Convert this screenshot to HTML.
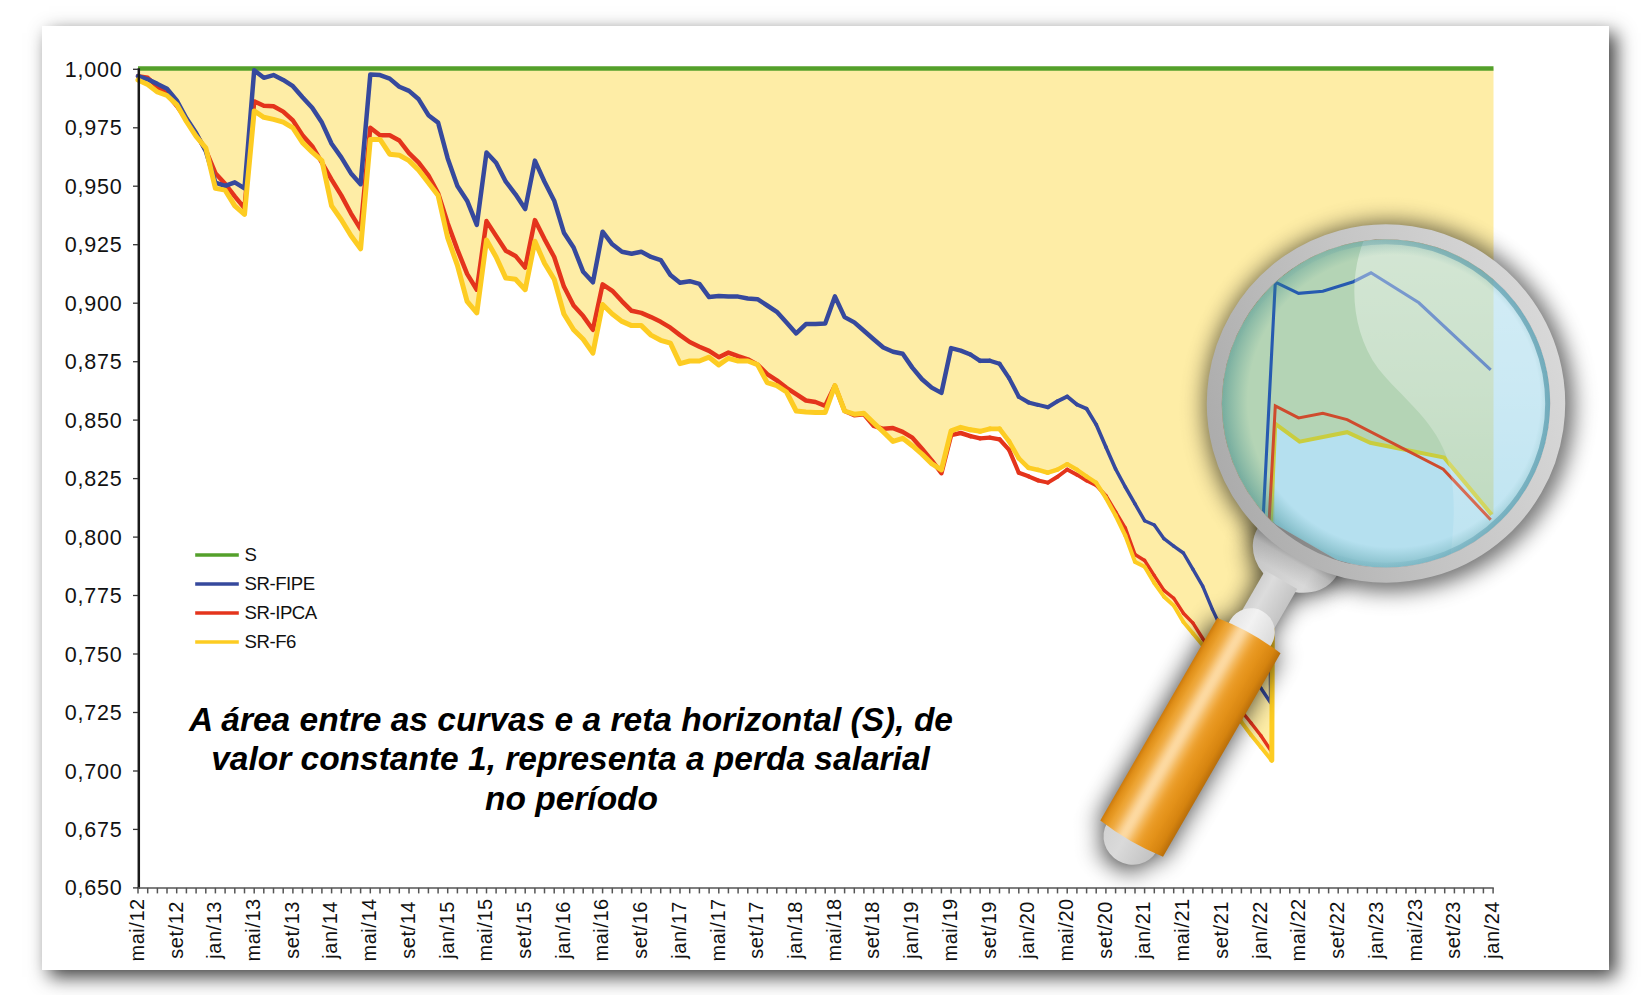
<!DOCTYPE html>
<html lang="pt"><head><meta charset="utf-8"><title>Chart</title>
<style>
html,body{margin:0;padding:0;background:#fff;}
body{width:1641px;height:995px;position:relative;overflow:hidden;font-family:"Liberation Sans",sans-serif;}
#paper{position:absolute;left:42px;top:26px;width:1567px;height:944px;background:#fff;box-shadow:7px 7px 18px rgba(0,0,0,0.76);}
svg{position:absolute;left:0;top:0;}
text{font-family:"Liberation Sans",sans-serif;fill:#111;}
.yl{font-size:21.5px;letter-spacing:0.8px;}
.xl{font-size:20px;letter-spacing:0.55px;}
.lg{font-size:18.6px;letter-spacing:-0.45px;}
.an{font-size:33.5px;font-weight:bold;font-style:italic;fill:#000;}
</style></head><body>
<div id="paper"></div>
<svg width="1641" height="995" viewBox="0 0 1641 995">
<defs>
<clipPath id="noglass"><path clip-rule="evenodd" d="M0,0 H1641 V995 H0 Z M1222,403.5 a164,164 0 1,0 328,0 a164,164 0 1,0 -328,0 Z"/></clipPath>
<clipPath id="glassclip"><circle cx="1386.0" cy="403.5" r="164.0"/></clipPath>
<filter id="blur" x="-30%" y="-30%" width="160%" height="160%"><feGaussianBlur stdDeviation="12.5"/></filter>
<radialGradient id="glassedge" gradientUnits="userSpaceOnUse" cx="1394" cy="401" r="174">
<stop offset="0" stop-color="#3A8A8A" stop-opacity="0"/>
<stop offset="0.84" stop-color="#3A8A8A" stop-opacity="0"/>
<stop offset="1" stop-color="#2F7F86" stop-opacity="0.5"/>
</radialGradient>
<linearGradient id="ringg" gradientUnits="userSpaceOnUse" x1="1222" y1="440" x2="1550" y2="370">
<stop offset="0" stop-color="#4E93A6" stop-opacity="0"/><stop offset="0.4" stop-color="#4E93A6" stop-opacity="0.08"/><stop offset="0.75" stop-color="#4E93A6" stop-opacity="0.5"/><stop offset="1" stop-color="#4E93A6" stop-opacity="0.66"/>
</linearGradient>
<linearGradient id="glareg" gradientUnits="userSpaceOnUse" x1="0" y1="240" x2="0" y2="570">
<stop offset="0" stop-color="#fff" stop-opacity="0.42"/><stop offset="0.45" stop-color="#fff" stop-opacity="0.3"/><stop offset="1" stop-color="#fff" stop-opacity="0.1"/>
</linearGradient>
<linearGradient id="rimg" gradientUnits="userSpaceOnUse" x1="-116" y1="137" x2="116" y2="-137">
<stop offset="0" stop-color="#ACACAC"/><stop offset="0.5" stop-color="#C4C4C4"/><stop offset="1" stop-color="#D8D8D8"/>
</linearGradient>
<linearGradient id="handleg" x1="0" y1="0" x2="1" y2="0">
<stop offset="0.000" stop-color="#CC7A0C"/>
<stop offset="0.025" stop-color="#D48312"/>
<stop offset="0.050" stop-color="#DD8C17"/>
<stop offset="0.075" stop-color="#E2921C"/>
<stop offset="0.100" stop-color="#E59721"/>
<stop offset="0.125" stop-color="#E89C28"/>
<stop offset="0.150" stop-color="#ECA230"/>
<stop offset="0.175" stop-color="#EDA638"/>
<stop offset="0.200" stop-color="#EFAB42"/>
<stop offset="0.225" stop-color="#F1B150"/>
<stop offset="0.250" stop-color="#F3B960"/>
<stop offset="0.275" stop-color="#F6C271"/>
<stop offset="0.300" stop-color="#F8CA83"/>
<stop offset="0.325" stop-color="#FAD192"/>
<stop offset="0.350" stop-color="#FCD79D"/>
<stop offset="0.375" stop-color="#FCD9A1"/>
<stop offset="0.400" stop-color="#FCD89F"/>
<stop offset="0.425" stop-color="#FBD497"/>
<stop offset="0.450" stop-color="#F9CD8A"/>
<stop offset="0.475" stop-color="#F7C679"/>
<stop offset="0.500" stop-color="#F5BD68"/>
<stop offset="0.525" stop-color="#F3B658"/>
<stop offset="0.550" stop-color="#F2AF4A"/>
<stop offset="0.575" stop-color="#F0A83D"/>
<stop offset="0.600" stop-color="#EDA333"/>
<stop offset="0.625" stop-color="#EB9E2C"/>
<stop offset="0.650" stop-color="#EA9B26"/>
<stop offset="0.675" stop-color="#E89822"/>
<stop offset="0.700" stop-color="#E7961F"/>
<stop offset="0.725" stop-color="#E5941C"/>
<stop offset="0.750" stop-color="#E4921A"/>
<stop offset="0.775" stop-color="#E29018"/>
<stop offset="0.800" stop-color="#DF8D16"/>
<stop offset="0.825" stop-color="#DD8B15"/>
<stop offset="0.850" stop-color="#DB8913"/>
<stop offset="0.875" stop-color="#D88611"/>
<stop offset="0.900" stop-color="#D6840F"/>
<stop offset="0.925" stop-color="#CF7F0E"/>
<stop offset="0.950" stop-color="#C8790D"/>
<stop offset="0.975" stop-color="#C0740B"/>
<stop offset="1.000" stop-color="#B96E0A"/>
</linearGradient>
<linearGradient id="neckg" x1="0" y1="0" x2="1" y2="0">
<stop offset="0" stop-color="#D0D0D0"/><stop offset="0.3" stop-color="#DCDCDC"/><stop offset="1" stop-color="#C4C4C4"/>
</linearGradient>
<linearGradient id="collarg" x1="0" y1="0" x2="1" y2="0">
<stop offset="0" stop-color="#C2C2C2"/><stop offset="0.35" stop-color="#CECECE"/><stop offset="0.75" stop-color="#D9D9D9"/><stop offset="1" stop-color="#C6C6C6"/>
</linearGradient>
<linearGradient id="collarsh" gradientUnits="userSpaceOnUse" x1="0" y1="170" x2="0" y2="212">
<stop offset="0" stop-color="#000" stop-opacity="0.35"/><stop offset="0.3" stop-color="#000" stop-opacity="0.1"/><stop offset="0.7" stop-color="#000" stop-opacity="0"/>
</linearGradient>
<linearGradient id="domeg" x1="0" y1="0" x2="1" y2="0">
<stop offset="0" stop-color="#E4E4E4"/><stop offset="0.4" stop-color="#F2F2F2"/><stop offset="1" stop-color="#DADADA"/>
</linearGradient>
<linearGradient id="capg" x1="0" y1="0" x2="1" y2="0">
<stop offset="0" stop-color="#D2D2D2"/><stop offset="0.4" stop-color="#DADADA"/><stop offset="1" stop-color="#C2C2C2"/>
</linearGradient>
</defs>
<polygon points="138.0,68.3 1493.5,68.3 1493.5,514.6 1491.7,514.6 1444.2,457.6 1370.3,442.8 1347.1,432.2 1299.6,441.7 1275.3,423.8 1272.0,762.5 1270.5,759.0 1260.8,747.0 1251.1,735.0 1241.4,722.0 1231.8,703.0 1222.1,683.0 1212.4,664.0 1202.7,645.2 1193.0,633.6 1183.4,622.0 1173.7,605.6 1164.0,596.7 1154.3,583.0 1144.6,566.7 1135.0,561.9 1125.3,535.5 1115.6,515.5 1105.9,497.9 1096.2,482.8 1086.6,476.4 1076.9,469.7 1067.2,464.2 1057.5,469.7 1047.9,472.7 1038.2,469.9 1028.5,467.8 1018.8,458.3 1009.1,441.4 999.5,428.8 989.8,428.8 980.1,431.3 970.4,429.8 960.7,427.3 951.1,430.9 941.4,469.9 931.7,463.6 922.0,454.1 912.3,445.7 902.7,438.3 893.0,441.4 883.3,431.9 873.6,422.7 863.9,413.2 854.3,414.2 844.6,411.0 834.9,385.7 825.2,412.5 815.5,412.5 805.9,412.1 796.2,411.0 786.5,392.0 776.8,385.7 767.2,382.6 757.5,364.6 747.8,361.0 738.1,361.0 728.4,358.3 718.8,365.0 709.1,357.2 699.4,361.0 689.7,361.0 680.0,363.6 670.4,343.1 660.7,340.3 651.0,335.1 641.3,325.6 631.6,325.6 622.0,321.4 612.3,314.0 602.6,304.5 592.9,353.1 583.2,339.3 573.6,329.8 563.9,314.0 554.2,279.2 544.5,263.3 534.9,241.2 525.2,289.7 515.5,279.2 505.8,278.1 496.1,257.0 486.5,240.1 476.8,312.9 467.1,301.3 457.4,265.4 447.7,238.0 438.1,195.4 428.4,182.7 418.7,170.1 409.0,160.6 399.3,155.3 389.7,154.2 380.0,139.4 370.3,139.4 360.6,248.8 350.9,235.5 341.3,219.7 331.6,205.9 321.9,160.6 312.2,152.1 302.5,142.6 292.9,127.8 283.2,122.1 273.5,119.4 263.8,117.3 254.2,110.9 244.5,214.4 234.8,205.9 225.1,190.1 215.4,188.4 205.8,147.9 196.1,136.3 186.4,121.5 176.7,104.6 167.0,95.5 157.4,91.9 147.7,84.6 138.0,79.9" fill="#FEEDA6"/>
<line x1="138.0" y1="68.5" x2="1493.5" y2="68.5" stroke="#54A02B" stroke-width="4.6"/>
<polyline points="138.0,76.1 147.7,77.8 157.4,86.7 167.0,94.1 176.7,105.7 186.4,119.4 196.1,134.2 205.8,150.0 215.4,173.2 225.1,183.8 234.8,196.4 244.5,208.1 254.2,101.4 263.8,105.7 273.5,106.3 283.2,111.6 292.9,120.4 302.5,135.2 312.2,146.2 321.9,162.7 331.6,179.6 341.3,195.4 350.9,213.3 360.6,229.2 370.3,127.8 380.0,135.2 389.7,135.2 399.3,140.5 409.0,153.2 418.7,162.7 428.4,175.3 438.1,193.3 447.7,223.2 457.4,249.6 467.1,273.9 476.8,289.7 486.5,221.1 496.1,235.9 505.8,250.7 515.5,255.9 525.2,267.6 534.9,220.1 544.5,239.1 554.2,257.0 563.9,286.6 573.6,305.6 583.2,316.1 592.9,329.8 602.6,284.4 612.3,290.8 622.0,301.3 631.6,310.8 641.3,312.9 651.0,317.1 660.7,321.8 670.4,327.7 680.0,335.1 689.7,342.0 699.4,346.7 709.1,350.9 718.8,357.2 728.4,352.6 738.1,356.2 747.8,359.3 757.5,364.6 767.2,374.1 776.8,380.4 786.5,387.8 796.2,394.2 805.9,400.5 815.5,402.0 825.2,405.8 834.9,385.7 844.6,411.0 854.3,415.3 863.9,414.2 873.6,425.8 883.3,428.8 893.0,428.1 902.7,431.9 912.3,437.6 922.0,448.8 931.7,460.4 941.4,473.1 951.1,435.1 960.7,433.0 970.4,436.2" fill="none" stroke="#E4341C" stroke-width="4.50" stroke-linejoin="round" stroke-linecap="round"/>
<line x1="970.4" y1="436.2" x2="980.1" y2="438.3" stroke="#E4341C" stroke-width="4.42" stroke-linecap="round"/>
<line x1="980.1" y1="438.3" x2="989.8" y2="437.6" stroke="#E4341C" stroke-width="4.36" stroke-linecap="round"/>
<line x1="989.8" y1="437.6" x2="999.5" y2="439.3" stroke="#E4341C" stroke-width="4.31" stroke-linecap="round"/>
<line x1="999.5" y1="439.3" x2="1009.1" y2="449.9" stroke="#E4341C" stroke-width="4.25" stroke-linecap="round"/>
<line x1="1009.1" y1="449.9" x2="1018.8" y2="472.7" stroke="#E4341C" stroke-width="4.20" stroke-linecap="round"/>
<line x1="1018.8" y1="472.7" x2="1028.5" y2="476.3" stroke="#E4341C" stroke-width="4.14" stroke-linecap="round"/>
<line x1="1028.5" y1="476.3" x2="1038.2" y2="480.5" stroke="#E4341C" stroke-width="4.09" stroke-linecap="round"/>
<line x1="1038.2" y1="480.5" x2="1047.9" y2="482.6" stroke="#E4341C" stroke-width="4.03" stroke-linecap="round"/>
<line x1="1047.9" y1="482.6" x2="1057.5" y2="476.8" stroke="#E4341C" stroke-width="3.98" stroke-linecap="round"/>
<line x1="1057.5" y1="476.8" x2="1067.2" y2="469.5" stroke="#E4341C" stroke-width="3.92" stroke-linecap="round"/>
<line x1="1067.2" y1="469.5" x2="1076.9" y2="474.7" stroke="#E4341C" stroke-width="3.87" stroke-linecap="round"/>
<line x1="1076.9" y1="474.7" x2="1086.6" y2="480.6" stroke="#E4341C" stroke-width="3.81" stroke-linecap="round"/>
<line x1="1086.6" y1="480.6" x2="1096.2" y2="485.3" stroke="#E4341C" stroke-width="3.76" stroke-linecap="round"/>
<line x1="1096.2" y1="485.3" x2="1105.9" y2="495.8" stroke="#E4341C" stroke-width="3.70" stroke-linecap="round"/>
<line x1="1105.9" y1="495.8" x2="1115.6" y2="511.9" stroke="#E4341C" stroke-width="3.65" stroke-linecap="round"/>
<line x1="1115.6" y1="511.9" x2="1125.3" y2="528.1" stroke="#E4341C" stroke-width="3.59" stroke-linecap="round"/>
<line x1="1125.3" y1="528.1" x2="1135.0" y2="554.5" stroke="#E4341C" stroke-width="3.54" stroke-linecap="round"/>
<line x1="1135.0" y1="554.5" x2="1144.6" y2="560.4" stroke="#E4341C" stroke-width="3.48" stroke-linecap="round"/>
<line x1="1144.6" y1="560.4" x2="1154.3" y2="575.6" stroke="#E4341C" stroke-width="3.43" stroke-linecap="round"/>
<line x1="1154.3" y1="575.6" x2="1164.0" y2="590.4" stroke="#E4341C" stroke-width="3.40" stroke-linecap="round"/>
<line x1="1164.0" y1="590.4" x2="1173.7" y2="598.2" stroke="#E4341C" stroke-width="3.40" stroke-linecap="round"/>
<line x1="1173.7" y1="598.2" x2="1183.4" y2="613.2" stroke="#E4341C" stroke-width="3.40" stroke-linecap="round"/>
<line x1="1183.4" y1="613.2" x2="1193.0" y2="623.1" stroke="#E4341C" stroke-width="3.40" stroke-linecap="round"/>
<line x1="1193.0" y1="623.1" x2="1202.7" y2="638.5" stroke="#E4341C" stroke-width="3.40" stroke-linecap="round"/>
<line x1="1202.7" y1="638.5" x2="1212.4" y2="655.0" stroke="#E4341C" stroke-width="3.40" stroke-linecap="round"/>
<line x1="1212.4" y1="655.0" x2="1222.1" y2="672.0" stroke="#E4341C" stroke-width="3.40" stroke-linecap="round"/>
<line x1="1222.1" y1="672.0" x2="1231.8" y2="691.0" stroke="#E4341C" stroke-width="3.40" stroke-linecap="round"/>
<line x1="1231.8" y1="691.0" x2="1241.4" y2="711.0" stroke="#E4341C" stroke-width="3.40" stroke-linecap="round"/>
<line x1="1241.4" y1="711.0" x2="1251.1" y2="723.0" stroke="#E4341C" stroke-width="3.40" stroke-linecap="round"/>
<line x1="1251.1" y1="723.0" x2="1260.8" y2="735.5" stroke="#E4341C" stroke-width="3.40" stroke-linecap="round"/>
<line x1="1260.8" y1="735.5" x2="1270.5" y2="750.0" stroke="#E4341C" stroke-width="3.40" stroke-linecap="round"/>
<polyline points="138.0,76.1 147.7,79.3 157.4,83.9 167.0,88.8 176.7,100.4 186.4,118.3 196.1,133.1 205.8,151.1 215.4,182.7 225.1,185.9 234.8,182.3 244.5,188.4 254.2,70.2 263.8,77.8 273.5,75.1 283.2,79.9 292.9,86.2 302.5,97.2 312.2,107.8 321.9,122.6 331.6,143.7 341.3,157.4 350.9,173.2 360.6,184.2 370.3,74.4 380.0,75.1 389.7,78.6 399.3,86.7 409.0,90.9 418.7,99.3 428.4,115.2 438.1,122.6 447.7,158.4 457.4,185.9 467.1,200.7 476.8,224.9 486.5,152.5 496.1,162.7 505.8,181.7 515.5,194.3 525.2,209.1 534.9,160.6 544.5,181.7 554.2,200.7 563.9,232.7 573.6,247.5 583.2,271.8 592.9,282.3 602.6,231.7 612.3,244.3 622.0,251.7 631.6,253.8 641.3,251.7 651.0,256.9 660.7,260.1 670.4,274.9 680.0,282.7 689.7,281.2 699.4,283.8 709.1,297.1 718.8,296.0 728.4,296.6 738.1,296.6 747.8,298.5 757.5,299.2 767.2,305.5 776.8,311.8 786.5,322.4 796.2,333.4 805.9,324.1 815.5,324.1 825.2,323.4 834.9,296.4 844.6,317.1 854.3,322.4 863.9,330.8 873.6,339.3 883.3,347.5 893.0,351.7 902.7,353.8 912.3,367.6 922.0,379.2 931.7,387.6 941.4,392.9 951.1,348.1 960.7,350.7 970.4,354.5" fill="none" stroke="#36499D" stroke-width="4.50" stroke-linejoin="round" stroke-linecap="round"/>
<line x1="970.4" y1="354.5" x2="980.1" y2="360.8" stroke="#36499D" stroke-width="4.42" stroke-linecap="round"/>
<line x1="980.1" y1="360.8" x2="989.8" y2="360.8" stroke="#36499D" stroke-width="4.36" stroke-linecap="round"/>
<line x1="989.8" y1="360.8" x2="999.5" y2="363.8" stroke="#36499D" stroke-width="4.31" stroke-linecap="round"/>
<line x1="999.5" y1="363.8" x2="1009.1" y2="378.1" stroke="#36499D" stroke-width="4.25" stroke-linecap="round"/>
<line x1="1009.1" y1="378.1" x2="1018.8" y2="396.7" stroke="#36499D" stroke-width="4.20" stroke-linecap="round"/>
<line x1="1018.8" y1="396.7" x2="1028.5" y2="402.4" stroke="#36499D" stroke-width="4.14" stroke-linecap="round"/>
<line x1="1028.5" y1="402.4" x2="1038.2" y2="404.9" stroke="#36499D" stroke-width="4.09" stroke-linecap="round"/>
<line x1="1038.2" y1="404.9" x2="1047.9" y2="407.2" stroke="#36499D" stroke-width="4.03" stroke-linecap="round"/>
<line x1="1047.9" y1="407.2" x2="1057.5" y2="401.3" stroke="#36499D" stroke-width="3.98" stroke-linecap="round"/>
<line x1="1057.5" y1="401.3" x2="1067.2" y2="396.5" stroke="#36499D" stroke-width="3.92" stroke-linecap="round"/>
<line x1="1067.2" y1="396.5" x2="1076.9" y2="404.5" stroke="#36499D" stroke-width="3.87" stroke-linecap="round"/>
<line x1="1076.9" y1="404.5" x2="1086.6" y2="408.7" stroke="#36499D" stroke-width="3.81" stroke-linecap="round"/>
<line x1="1086.6" y1="408.7" x2="1096.2" y2="424.6" stroke="#36499D" stroke-width="3.76" stroke-linecap="round"/>
<line x1="1096.2" y1="424.6" x2="1105.9" y2="446.9" stroke="#36499D" stroke-width="3.70" stroke-linecap="round"/>
<line x1="1105.9" y1="446.9" x2="1115.6" y2="469.0" stroke="#36499D" stroke-width="3.65" stroke-linecap="round"/>
<line x1="1115.6" y1="469.0" x2="1125.3" y2="487.0" stroke="#36499D" stroke-width="3.59" stroke-linecap="round"/>
<line x1="1125.3" y1="487.0" x2="1135.0" y2="503.9" stroke="#36499D" stroke-width="3.54" stroke-linecap="round"/>
<line x1="1135.0" y1="503.9" x2="1144.6" y2="520.7" stroke="#36499D" stroke-width="3.48" stroke-linecap="round"/>
<line x1="1144.6" y1="520.7" x2="1154.3" y2="525.0" stroke="#36499D" stroke-width="3.43" stroke-linecap="round"/>
<line x1="1154.3" y1="525.0" x2="1164.0" y2="538.7" stroke="#36499D" stroke-width="3.40" stroke-linecap="round"/>
<line x1="1164.0" y1="538.7" x2="1173.7" y2="546.1" stroke="#36499D" stroke-width="3.40" stroke-linecap="round"/>
<line x1="1173.7" y1="546.1" x2="1183.4" y2="553.0" stroke="#36499D" stroke-width="3.40" stroke-linecap="round"/>
<line x1="1183.4" y1="553.0" x2="1193.0" y2="569.3" stroke="#36499D" stroke-width="3.40" stroke-linecap="round"/>
<line x1="1193.0" y1="569.3" x2="1202.7" y2="586.2" stroke="#36499D" stroke-width="3.40" stroke-linecap="round"/>
<line x1="1202.7" y1="586.2" x2="1212.4" y2="609.4" stroke="#36499D" stroke-width="3.40" stroke-linecap="round"/>
<line x1="1212.4" y1="609.4" x2="1222.1" y2="630.0" stroke="#36499D" stroke-width="3.40" stroke-linecap="round"/>
<line x1="1222.1" y1="630.0" x2="1231.8" y2="645.0" stroke="#36499D" stroke-width="3.40" stroke-linecap="round"/>
<line x1="1231.8" y1="645.0" x2="1241.4" y2="660.0" stroke="#36499D" stroke-width="3.40" stroke-linecap="round"/>
<line x1="1241.4" y1="660.0" x2="1251.1" y2="675.0" stroke="#36499D" stroke-width="3.40" stroke-linecap="round"/>
<line x1="1251.1" y1="675.0" x2="1260.8" y2="688.0" stroke="#36499D" stroke-width="3.40" stroke-linecap="round"/>
<line x1="1260.8" y1="688.0" x2="1270.5" y2="702.5" stroke="#36499D" stroke-width="3.40" stroke-linecap="round"/>
<polyline points="1270.5,702.5 1269.6,560.0" fill="none" stroke="#36499D" stroke-width="3.2"/>
<polyline points="138.0,79.9 147.7,84.6 157.4,91.9 167.0,95.5 176.7,104.6 186.4,121.5 196.1,136.3 205.8,147.9 215.4,188.4 225.1,190.1 234.8,205.9 244.5,214.4 254.2,110.9 263.8,117.3 273.5,119.4 283.2,122.1 292.9,127.8 302.5,142.6 312.2,152.1 321.9,160.6 331.6,205.9 341.3,219.7 350.9,235.5 360.6,248.8 370.3,139.4 380.0,139.4 389.7,154.2 399.3,155.3 409.0,160.6 418.7,170.1 428.4,182.7 438.1,195.4 447.7,238.0 457.4,265.4 467.1,301.3 476.8,312.9 486.5,240.1 496.1,257.0 505.8,278.1 515.5,279.2 525.2,289.7 534.9,241.2 544.5,263.3 554.2,279.2 563.9,314.0 573.6,329.8 583.2,339.3 592.9,353.1 602.6,304.5 612.3,314.0 622.0,321.4 631.6,325.6 641.3,325.6 651.0,335.1 660.7,340.3 670.4,343.1 680.0,363.6 689.7,361.0 699.4,361.0 709.1,357.2 718.8,365.0 728.4,358.3 738.1,361.0 747.8,361.0 757.5,364.6 767.2,382.6 776.8,385.7 786.5,392.0 796.2,411.0 805.9,412.1 815.5,412.5 825.2,412.5 834.9,385.7 844.6,411.0 854.3,414.2 863.9,413.2 873.6,422.7 883.3,431.9 893.0,441.4 902.7,438.3 912.3,445.7 922.0,454.1 931.7,463.6 941.4,469.9 951.1,430.9 960.7,427.3 970.4,429.8" fill="none" stroke="#FDCC22" stroke-width="5.00" stroke-linejoin="round" stroke-linecap="round"/>
<line x1="970.4" y1="429.8" x2="980.1" y2="431.3" stroke="#FDCC22" stroke-width="4.92" stroke-linecap="round"/>
<line x1="980.1" y1="431.3" x2="989.8" y2="428.8" stroke="#FDCC22" stroke-width="4.86" stroke-linecap="round"/>
<line x1="989.8" y1="428.8" x2="999.5" y2="428.8" stroke="#FDCC22" stroke-width="4.81" stroke-linecap="round"/>
<line x1="999.5" y1="428.8" x2="1009.1" y2="441.4" stroke="#FDCC22" stroke-width="4.75" stroke-linecap="round"/>
<line x1="1009.1" y1="441.4" x2="1018.8" y2="458.3" stroke="#FDCC22" stroke-width="4.70" stroke-linecap="round"/>
<line x1="1018.8" y1="458.3" x2="1028.5" y2="467.8" stroke="#FDCC22" stroke-width="4.64" stroke-linecap="round"/>
<line x1="1028.5" y1="467.8" x2="1038.2" y2="469.9" stroke="#FDCC22" stroke-width="4.59" stroke-linecap="round"/>
<line x1="1038.2" y1="469.9" x2="1047.9" y2="472.7" stroke="#FDCC22" stroke-width="4.53" stroke-linecap="round"/>
<line x1="1047.9" y1="472.7" x2="1057.5" y2="469.7" stroke="#FDCC22" stroke-width="4.48" stroke-linecap="round"/>
<line x1="1057.5" y1="469.7" x2="1067.2" y2="464.2" stroke="#FDCC22" stroke-width="4.42" stroke-linecap="round"/>
<line x1="1067.2" y1="464.2" x2="1076.9" y2="469.7" stroke="#FDCC22" stroke-width="4.37" stroke-linecap="round"/>
<line x1="1076.9" y1="469.7" x2="1086.6" y2="476.4" stroke="#FDCC22" stroke-width="4.31" stroke-linecap="round"/>
<line x1="1086.6" y1="476.4" x2="1096.2" y2="482.8" stroke="#FDCC22" stroke-width="4.26" stroke-linecap="round"/>
<line x1="1096.2" y1="482.8" x2="1105.9" y2="497.9" stroke="#FDCC22" stroke-width="4.20" stroke-linecap="round"/>
<line x1="1105.9" y1="497.9" x2="1115.6" y2="515.5" stroke="#FDCC22" stroke-width="4.15" stroke-linecap="round"/>
<line x1="1115.6" y1="515.5" x2="1125.3" y2="535.5" stroke="#FDCC22" stroke-width="4.09" stroke-linecap="round"/>
<line x1="1125.3" y1="535.5" x2="1135.0" y2="561.9" stroke="#FDCC22" stroke-width="4.04" stroke-linecap="round"/>
<line x1="1135.0" y1="561.9" x2="1144.6" y2="566.7" stroke="#FDCC22" stroke-width="3.98" stroke-linecap="round"/>
<line x1="1144.6" y1="566.7" x2="1154.3" y2="583.0" stroke="#FDCC22" stroke-width="3.93" stroke-linecap="round"/>
<line x1="1154.3" y1="583.0" x2="1164.0" y2="596.7" stroke="#FDCC22" stroke-width="3.90" stroke-linecap="round"/>
<line x1="1164.0" y1="596.7" x2="1173.7" y2="605.6" stroke="#FDCC22" stroke-width="3.90" stroke-linecap="round"/>
<line x1="1173.7" y1="605.6" x2="1183.4" y2="622.0" stroke="#FDCC22" stroke-width="3.90" stroke-linecap="round"/>
<line x1="1183.4" y1="622.0" x2="1193.0" y2="633.6" stroke="#FDCC22" stroke-width="3.90" stroke-linecap="round"/>
<line x1="1193.0" y1="633.6" x2="1202.7" y2="645.2" stroke="#FDCC22" stroke-width="3.90" stroke-linecap="round"/>
<line x1="1202.7" y1="645.2" x2="1212.4" y2="664.0" stroke="#FDCC22" stroke-width="3.90" stroke-linecap="round"/>
<line x1="1212.4" y1="664.0" x2="1222.1" y2="683.0" stroke="#FDCC22" stroke-width="3.90" stroke-linecap="round"/>
<line x1="1222.1" y1="683.0" x2="1231.8" y2="703.0" stroke="#FDCC22" stroke-width="3.90" stroke-linecap="round"/>
<line x1="1231.8" y1="703.0" x2="1241.4" y2="722.0" stroke="#FDCC22" stroke-width="3.90" stroke-linecap="round"/>
<line x1="1241.4" y1="722.0" x2="1251.1" y2="735.0" stroke="#FDCC22" stroke-width="3.90" stroke-linecap="round"/>
<line x1="1251.1" y1="735.0" x2="1260.8" y2="747.0" stroke="#FDCC22" stroke-width="3.90" stroke-linecap="round"/>
<line x1="1260.8" y1="747.0" x2="1270.5" y2="759.0" stroke="#FDCC22" stroke-width="3.90" stroke-linecap="round"/>
<polyline points="1270.5,759.0 1271.8,760.3 1272.6,560.0" fill="none" stroke="#FDCC22" stroke-width="5" stroke-linejoin="round"/>
<line x1="138.8" y1="68.3" x2="138.8" y2="888.7" stroke="#1a1a1a" stroke-width="2.5"/>
<line x1="137.1" y1="887.9" x2="1493.8" y2="887.9" stroke="#555" stroke-width="1.5"/>
<line x1="133.0" y1="69.3" x2="138.0" y2="69.3" stroke="#333" stroke-width="1.3"/>
<text x="122.5" y="76.8" text-anchor="end" class="yl">1,000</text>
<line x1="133.0" y1="127.8" x2="138.0" y2="127.8" stroke="#333" stroke-width="1.3"/>
<text x="122.5" y="135.3" text-anchor="end" class="yl">0,975</text>
<line x1="133.0" y1="186.2" x2="138.0" y2="186.2" stroke="#333" stroke-width="1.3"/>
<text x="122.5" y="193.7" text-anchor="end" class="yl">0,950</text>
<line x1="133.0" y1="244.7" x2="138.0" y2="244.7" stroke="#333" stroke-width="1.3"/>
<text x="122.5" y="252.2" text-anchor="end" class="yl">0,925</text>
<line x1="133.0" y1="303.2" x2="138.0" y2="303.2" stroke="#333" stroke-width="1.3"/>
<text x="122.5" y="310.7" text-anchor="end" class="yl">0,900</text>
<line x1="133.0" y1="361.7" x2="138.0" y2="361.7" stroke="#333" stroke-width="1.3"/>
<text x="122.5" y="369.2" text-anchor="end" class="yl">0,875</text>
<line x1="133.0" y1="420.1" x2="138.0" y2="420.1" stroke="#333" stroke-width="1.3"/>
<text x="122.5" y="427.6" text-anchor="end" class="yl">0,850</text>
<line x1="133.0" y1="478.6" x2="138.0" y2="478.6" stroke="#333" stroke-width="1.3"/>
<text x="122.5" y="486.1" text-anchor="end" class="yl">0,825</text>
<line x1="133.0" y1="537.1" x2="138.0" y2="537.1" stroke="#333" stroke-width="1.3"/>
<text x="122.5" y="544.6" text-anchor="end" class="yl">0,800</text>
<line x1="133.0" y1="595.5" x2="138.0" y2="595.5" stroke="#333" stroke-width="1.3"/>
<text x="122.5" y="603.0" text-anchor="end" class="yl">0,775</text>
<line x1="133.0" y1="654.0" x2="138.0" y2="654.0" stroke="#333" stroke-width="1.3"/>
<text x="122.5" y="661.5" text-anchor="end" class="yl">0,750</text>
<line x1="133.0" y1="712.5" x2="138.0" y2="712.5" stroke="#333" stroke-width="1.3"/>
<text x="122.5" y="720.0" text-anchor="end" class="yl">0,725</text>
<line x1="133.0" y1="771.0" x2="138.0" y2="771.0" stroke="#333" stroke-width="1.3"/>
<text x="122.5" y="778.5" text-anchor="end" class="yl">0,700</text>
<line x1="133.0" y1="829.4" x2="138.0" y2="829.4" stroke="#333" stroke-width="1.3"/>
<text x="122.5" y="836.9" text-anchor="end" class="yl">0,675</text>
<line x1="133.0" y1="887.9" x2="138.0" y2="887.9" stroke="#333" stroke-width="1.3"/>
<text x="122.5" y="895.4" text-anchor="end" class="yl">0,650</text>
<line x1="138.0" y1="887.9" x2="138.0" y2="893.4" stroke="#555" stroke-width="1.5"/>
<text transform="translate(143.8,929.9) rotate(-90)" text-anchor="middle" class="xl">mai/12</text>
<line x1="147.7" y1="887.9" x2="147.7" y2="893.4" stroke="#555" stroke-width="1.5"/>
<line x1="157.4" y1="887.9" x2="157.4" y2="893.4" stroke="#555" stroke-width="1.5"/>
<line x1="167.0" y1="887.9" x2="167.0" y2="893.4" stroke="#555" stroke-width="1.5"/>
<line x1="176.7" y1="887.9" x2="176.7" y2="893.4" stroke="#555" stroke-width="1.5"/>
<text transform="translate(182.5,929.9) rotate(-90)" text-anchor="middle" class="xl">set/12</text>
<line x1="186.4" y1="887.9" x2="186.4" y2="893.4" stroke="#555" stroke-width="1.5"/>
<line x1="196.1" y1="887.9" x2="196.1" y2="893.4" stroke="#555" stroke-width="1.5"/>
<line x1="205.8" y1="887.9" x2="205.8" y2="893.4" stroke="#555" stroke-width="1.5"/>
<line x1="215.4" y1="887.9" x2="215.4" y2="893.4" stroke="#555" stroke-width="1.5"/>
<text transform="translate(221.2,929.9) rotate(-90)" text-anchor="middle" class="xl">jan/13</text>
<line x1="225.1" y1="887.9" x2="225.1" y2="893.4" stroke="#555" stroke-width="1.5"/>
<line x1="234.8" y1="887.9" x2="234.8" y2="893.4" stroke="#555" stroke-width="1.5"/>
<line x1="244.5" y1="887.9" x2="244.5" y2="893.4" stroke="#555" stroke-width="1.5"/>
<line x1="254.2" y1="887.9" x2="254.2" y2="893.4" stroke="#555" stroke-width="1.5"/>
<text transform="translate(260.0,929.9) rotate(-90)" text-anchor="middle" class="xl">mai/13</text>
<line x1="263.8" y1="887.9" x2="263.8" y2="893.4" stroke="#555" stroke-width="1.5"/>
<line x1="273.5" y1="887.9" x2="273.5" y2="893.4" stroke="#555" stroke-width="1.5"/>
<line x1="283.2" y1="887.9" x2="283.2" y2="893.4" stroke="#555" stroke-width="1.5"/>
<line x1="292.9" y1="887.9" x2="292.9" y2="893.4" stroke="#555" stroke-width="1.5"/>
<text transform="translate(298.7,929.9) rotate(-90)" text-anchor="middle" class="xl">set/13</text>
<line x1="302.5" y1="887.9" x2="302.5" y2="893.4" stroke="#555" stroke-width="1.5"/>
<line x1="312.2" y1="887.9" x2="312.2" y2="893.4" stroke="#555" stroke-width="1.5"/>
<line x1="321.9" y1="887.9" x2="321.9" y2="893.4" stroke="#555" stroke-width="1.5"/>
<line x1="331.6" y1="887.9" x2="331.6" y2="893.4" stroke="#555" stroke-width="1.5"/>
<text transform="translate(337.4,929.9) rotate(-90)" text-anchor="middle" class="xl">jan/14</text>
<line x1="341.3" y1="887.9" x2="341.3" y2="893.4" stroke="#555" stroke-width="1.5"/>
<line x1="350.9" y1="887.9" x2="350.9" y2="893.4" stroke="#555" stroke-width="1.5"/>
<line x1="360.6" y1="887.9" x2="360.6" y2="893.4" stroke="#555" stroke-width="1.5"/>
<line x1="370.3" y1="887.9" x2="370.3" y2="893.4" stroke="#555" stroke-width="1.5"/>
<text transform="translate(376.1,929.9) rotate(-90)" text-anchor="middle" class="xl">mai/14</text>
<line x1="380.0" y1="887.9" x2="380.0" y2="893.4" stroke="#555" stroke-width="1.5"/>
<line x1="389.7" y1="887.9" x2="389.7" y2="893.4" stroke="#555" stroke-width="1.5"/>
<line x1="399.3" y1="887.9" x2="399.3" y2="893.4" stroke="#555" stroke-width="1.5"/>
<line x1="409.0" y1="887.9" x2="409.0" y2="893.4" stroke="#555" stroke-width="1.5"/>
<text transform="translate(414.8,929.9) rotate(-90)" text-anchor="middle" class="xl">set/14</text>
<line x1="418.7" y1="887.9" x2="418.7" y2="893.4" stroke="#555" stroke-width="1.5"/>
<line x1="428.4" y1="887.9" x2="428.4" y2="893.4" stroke="#555" stroke-width="1.5"/>
<line x1="438.1" y1="887.9" x2="438.1" y2="893.4" stroke="#555" stroke-width="1.5"/>
<line x1="447.7" y1="887.9" x2="447.7" y2="893.4" stroke="#555" stroke-width="1.5"/>
<text transform="translate(453.5,929.9) rotate(-90)" text-anchor="middle" class="xl">jan/15</text>
<line x1="457.4" y1="887.9" x2="457.4" y2="893.4" stroke="#555" stroke-width="1.5"/>
<line x1="467.1" y1="887.9" x2="467.1" y2="893.4" stroke="#555" stroke-width="1.5"/>
<line x1="476.8" y1="887.9" x2="476.8" y2="893.4" stroke="#555" stroke-width="1.5"/>
<line x1="486.5" y1="887.9" x2="486.5" y2="893.4" stroke="#555" stroke-width="1.5"/>
<text transform="translate(492.3,929.9) rotate(-90)" text-anchor="middle" class="xl">mai/15</text>
<line x1="496.1" y1="887.9" x2="496.1" y2="893.4" stroke="#555" stroke-width="1.5"/>
<line x1="505.8" y1="887.9" x2="505.8" y2="893.4" stroke="#555" stroke-width="1.5"/>
<line x1="515.5" y1="887.9" x2="515.5" y2="893.4" stroke="#555" stroke-width="1.5"/>
<line x1="525.2" y1="887.9" x2="525.2" y2="893.4" stroke="#555" stroke-width="1.5"/>
<text transform="translate(531.0,929.9) rotate(-90)" text-anchor="middle" class="xl">set/15</text>
<line x1="534.9" y1="887.9" x2="534.9" y2="893.4" stroke="#555" stroke-width="1.5"/>
<line x1="544.5" y1="887.9" x2="544.5" y2="893.4" stroke="#555" stroke-width="1.5"/>
<line x1="554.2" y1="887.9" x2="554.2" y2="893.4" stroke="#555" stroke-width="1.5"/>
<line x1="563.9" y1="887.9" x2="563.9" y2="893.4" stroke="#555" stroke-width="1.5"/>
<text transform="translate(569.7,929.9) rotate(-90)" text-anchor="middle" class="xl">jan/16</text>
<line x1="573.6" y1="887.9" x2="573.6" y2="893.4" stroke="#555" stroke-width="1.5"/>
<line x1="583.2" y1="887.9" x2="583.2" y2="893.4" stroke="#555" stroke-width="1.5"/>
<line x1="592.9" y1="887.9" x2="592.9" y2="893.4" stroke="#555" stroke-width="1.5"/>
<line x1="602.6" y1="887.9" x2="602.6" y2="893.4" stroke="#555" stroke-width="1.5"/>
<text transform="translate(608.4,929.9) rotate(-90)" text-anchor="middle" class="xl">mai/16</text>
<line x1="612.3" y1="887.9" x2="612.3" y2="893.4" stroke="#555" stroke-width="1.5"/>
<line x1="622.0" y1="887.9" x2="622.0" y2="893.4" stroke="#555" stroke-width="1.5"/>
<line x1="631.6" y1="887.9" x2="631.6" y2="893.4" stroke="#555" stroke-width="1.5"/>
<line x1="641.3" y1="887.9" x2="641.3" y2="893.4" stroke="#555" stroke-width="1.5"/>
<text transform="translate(647.1,929.9) rotate(-90)" text-anchor="middle" class="xl">set/16</text>
<line x1="651.0" y1="887.9" x2="651.0" y2="893.4" stroke="#555" stroke-width="1.5"/>
<line x1="660.7" y1="887.9" x2="660.7" y2="893.4" stroke="#555" stroke-width="1.5"/>
<line x1="670.4" y1="887.9" x2="670.4" y2="893.4" stroke="#555" stroke-width="1.5"/>
<line x1="680.0" y1="887.9" x2="680.0" y2="893.4" stroke="#555" stroke-width="1.5"/>
<text transform="translate(685.8,929.9) rotate(-90)" text-anchor="middle" class="xl">jan/17</text>
<line x1="689.7" y1="887.9" x2="689.7" y2="893.4" stroke="#555" stroke-width="1.5"/>
<line x1="699.4" y1="887.9" x2="699.4" y2="893.4" stroke="#555" stroke-width="1.5"/>
<line x1="709.1" y1="887.9" x2="709.1" y2="893.4" stroke="#555" stroke-width="1.5"/>
<line x1="718.8" y1="887.9" x2="718.8" y2="893.4" stroke="#555" stroke-width="1.5"/>
<text transform="translate(724.6,929.9) rotate(-90)" text-anchor="middle" class="xl">mai/17</text>
<line x1="728.4" y1="887.9" x2="728.4" y2="893.4" stroke="#555" stroke-width="1.5"/>
<line x1="738.1" y1="887.9" x2="738.1" y2="893.4" stroke="#555" stroke-width="1.5"/>
<line x1="747.8" y1="887.9" x2="747.8" y2="893.4" stroke="#555" stroke-width="1.5"/>
<line x1="757.5" y1="887.9" x2="757.5" y2="893.4" stroke="#555" stroke-width="1.5"/>
<text transform="translate(763.3,929.9) rotate(-90)" text-anchor="middle" class="xl">set/17</text>
<line x1="767.2" y1="887.9" x2="767.2" y2="893.4" stroke="#555" stroke-width="1.5"/>
<line x1="776.8" y1="887.9" x2="776.8" y2="893.4" stroke="#555" stroke-width="1.5"/>
<line x1="786.5" y1="887.9" x2="786.5" y2="893.4" stroke="#555" stroke-width="1.5"/>
<line x1="796.2" y1="887.9" x2="796.2" y2="893.4" stroke="#555" stroke-width="1.5"/>
<text transform="translate(802.0,929.9) rotate(-90)" text-anchor="middle" class="xl">jan/18</text>
<line x1="805.9" y1="887.9" x2="805.9" y2="893.4" stroke="#555" stroke-width="1.5"/>
<line x1="815.5" y1="887.9" x2="815.5" y2="893.4" stroke="#555" stroke-width="1.5"/>
<line x1="825.2" y1="887.9" x2="825.2" y2="893.4" stroke="#555" stroke-width="1.5"/>
<line x1="834.9" y1="887.9" x2="834.9" y2="893.4" stroke="#555" stroke-width="1.5"/>
<text transform="translate(840.7,929.9) rotate(-90)" text-anchor="middle" class="xl">mai/18</text>
<line x1="844.6" y1="887.9" x2="844.6" y2="893.4" stroke="#555" stroke-width="1.5"/>
<line x1="854.3" y1="887.9" x2="854.3" y2="893.4" stroke="#555" stroke-width="1.5"/>
<line x1="863.9" y1="887.9" x2="863.9" y2="893.4" stroke="#555" stroke-width="1.5"/>
<line x1="873.6" y1="887.9" x2="873.6" y2="893.4" stroke="#555" stroke-width="1.5"/>
<text transform="translate(879.4,929.9) rotate(-90)" text-anchor="middle" class="xl">set/18</text>
<line x1="883.3" y1="887.9" x2="883.3" y2="893.4" stroke="#555" stroke-width="1.5"/>
<line x1="893.0" y1="887.9" x2="893.0" y2="893.4" stroke="#555" stroke-width="1.5"/>
<line x1="902.7" y1="887.9" x2="902.7" y2="893.4" stroke="#555" stroke-width="1.5"/>
<line x1="912.3" y1="887.9" x2="912.3" y2="893.4" stroke="#555" stroke-width="1.5"/>
<text transform="translate(918.1,929.9) rotate(-90)" text-anchor="middle" class="xl">jan/19</text>
<line x1="922.0" y1="887.9" x2="922.0" y2="893.4" stroke="#555" stroke-width="1.5"/>
<line x1="931.7" y1="887.9" x2="931.7" y2="893.4" stroke="#555" stroke-width="1.5"/>
<line x1="941.4" y1="887.9" x2="941.4" y2="893.4" stroke="#555" stroke-width="1.5"/>
<line x1="951.1" y1="887.9" x2="951.1" y2="893.4" stroke="#555" stroke-width="1.5"/>
<text transform="translate(956.9,929.9) rotate(-90)" text-anchor="middle" class="xl">mai/19</text>
<line x1="960.7" y1="887.9" x2="960.7" y2="893.4" stroke="#555" stroke-width="1.5"/>
<line x1="970.4" y1="887.9" x2="970.4" y2="893.4" stroke="#555" stroke-width="1.5"/>
<line x1="980.1" y1="887.9" x2="980.1" y2="893.4" stroke="#555" stroke-width="1.5"/>
<line x1="989.8" y1="887.9" x2="989.8" y2="893.4" stroke="#555" stroke-width="1.5"/>
<text transform="translate(995.6,929.9) rotate(-90)" text-anchor="middle" class="xl">set/19</text>
<line x1="999.5" y1="887.9" x2="999.5" y2="893.4" stroke="#555" stroke-width="1.5"/>
<line x1="1009.1" y1="887.9" x2="1009.1" y2="893.4" stroke="#555" stroke-width="1.5"/>
<line x1="1018.8" y1="887.9" x2="1018.8" y2="893.4" stroke="#555" stroke-width="1.5"/>
<line x1="1028.5" y1="887.9" x2="1028.5" y2="893.4" stroke="#555" stroke-width="1.5"/>
<text transform="translate(1034.3,929.9) rotate(-90)" text-anchor="middle" class="xl">jan/20</text>
<line x1="1038.2" y1="887.9" x2="1038.2" y2="893.4" stroke="#555" stroke-width="1.5"/>
<line x1="1047.9" y1="887.9" x2="1047.9" y2="893.4" stroke="#555" stroke-width="1.5"/>
<line x1="1057.5" y1="887.9" x2="1057.5" y2="893.4" stroke="#555" stroke-width="1.5"/>
<line x1="1067.2" y1="887.9" x2="1067.2" y2="893.4" stroke="#555" stroke-width="1.5"/>
<text transform="translate(1073.0,929.9) rotate(-90)" text-anchor="middle" class="xl">mai/20</text>
<line x1="1076.9" y1="887.9" x2="1076.9" y2="893.4" stroke="#555" stroke-width="1.5"/>
<line x1="1086.6" y1="887.9" x2="1086.6" y2="893.4" stroke="#555" stroke-width="1.5"/>
<line x1="1096.2" y1="887.9" x2="1096.2" y2="893.4" stroke="#555" stroke-width="1.5"/>
<line x1="1105.9" y1="887.9" x2="1105.9" y2="893.4" stroke="#555" stroke-width="1.5"/>
<text transform="translate(1111.7,929.9) rotate(-90)" text-anchor="middle" class="xl">set/20</text>
<line x1="1115.6" y1="887.9" x2="1115.6" y2="893.4" stroke="#555" stroke-width="1.5"/>
<line x1="1125.3" y1="887.9" x2="1125.3" y2="893.4" stroke="#555" stroke-width="1.5"/>
<line x1="1135.0" y1="887.9" x2="1135.0" y2="893.4" stroke="#555" stroke-width="1.5"/>
<line x1="1144.6" y1="887.9" x2="1144.6" y2="893.4" stroke="#555" stroke-width="1.5"/>
<text transform="translate(1150.4,929.9) rotate(-90)" text-anchor="middle" class="xl">jan/21</text>
<line x1="1154.3" y1="887.9" x2="1154.3" y2="893.4" stroke="#555" stroke-width="1.5"/>
<line x1="1164.0" y1="887.9" x2="1164.0" y2="893.4" stroke="#555" stroke-width="1.5"/>
<line x1="1173.7" y1="887.9" x2="1173.7" y2="893.4" stroke="#555" stroke-width="1.5"/>
<line x1="1183.4" y1="887.9" x2="1183.4" y2="893.4" stroke="#555" stroke-width="1.5"/>
<text transform="translate(1189.2,929.9) rotate(-90)" text-anchor="middle" class="xl">mai/21</text>
<line x1="1193.0" y1="887.9" x2="1193.0" y2="893.4" stroke="#555" stroke-width="1.5"/>
<line x1="1202.7" y1="887.9" x2="1202.7" y2="893.4" stroke="#555" stroke-width="1.5"/>
<line x1="1212.4" y1="887.9" x2="1212.4" y2="893.4" stroke="#555" stroke-width="1.5"/>
<line x1="1222.1" y1="887.9" x2="1222.1" y2="893.4" stroke="#555" stroke-width="1.5"/>
<text transform="translate(1227.9,929.9) rotate(-90)" text-anchor="middle" class="xl">set/21</text>
<line x1="1231.8" y1="887.9" x2="1231.8" y2="893.4" stroke="#555" stroke-width="1.5"/>
<line x1="1241.4" y1="887.9" x2="1241.4" y2="893.4" stroke="#555" stroke-width="1.5"/>
<line x1="1251.1" y1="887.9" x2="1251.1" y2="893.4" stroke="#555" stroke-width="1.5"/>
<line x1="1260.8" y1="887.9" x2="1260.8" y2="893.4" stroke="#555" stroke-width="1.5"/>
<text transform="translate(1266.6,929.9) rotate(-90)" text-anchor="middle" class="xl">jan/22</text>
<line x1="1270.5" y1="887.9" x2="1270.5" y2="893.4" stroke="#555" stroke-width="1.5"/>
<line x1="1280.2" y1="887.9" x2="1280.2" y2="893.4" stroke="#555" stroke-width="1.5"/>
<line x1="1289.8" y1="887.9" x2="1289.8" y2="893.4" stroke="#555" stroke-width="1.5"/>
<line x1="1299.5" y1="887.9" x2="1299.5" y2="893.4" stroke="#555" stroke-width="1.5"/>
<text transform="translate(1305.3,929.9) rotate(-90)" text-anchor="middle" class="xl">mai/22</text>
<line x1="1309.2" y1="887.9" x2="1309.2" y2="893.4" stroke="#555" stroke-width="1.5"/>
<line x1="1318.9" y1="887.9" x2="1318.9" y2="893.4" stroke="#555" stroke-width="1.5"/>
<line x1="1328.6" y1="887.9" x2="1328.6" y2="893.4" stroke="#555" stroke-width="1.5"/>
<line x1="1338.2" y1="887.9" x2="1338.2" y2="893.4" stroke="#555" stroke-width="1.5"/>
<text transform="translate(1344.0,929.9) rotate(-90)" text-anchor="middle" class="xl">set/22</text>
<line x1="1347.9" y1="887.9" x2="1347.9" y2="893.4" stroke="#555" stroke-width="1.5"/>
<line x1="1357.6" y1="887.9" x2="1357.6" y2="893.4" stroke="#555" stroke-width="1.5"/>
<line x1="1367.3" y1="887.9" x2="1367.3" y2="893.4" stroke="#555" stroke-width="1.5"/>
<line x1="1376.9" y1="887.9" x2="1376.9" y2="893.4" stroke="#555" stroke-width="1.5"/>
<text transform="translate(1382.7,929.9) rotate(-90)" text-anchor="middle" class="xl">jan/23</text>
<line x1="1386.6" y1="887.9" x2="1386.6" y2="893.4" stroke="#555" stroke-width="1.5"/>
<line x1="1396.3" y1="887.9" x2="1396.3" y2="893.4" stroke="#555" stroke-width="1.5"/>
<line x1="1406.0" y1="887.9" x2="1406.0" y2="893.4" stroke="#555" stroke-width="1.5"/>
<line x1="1415.7" y1="887.9" x2="1415.7" y2="893.4" stroke="#555" stroke-width="1.5"/>
<text transform="translate(1421.5,929.9) rotate(-90)" text-anchor="middle" class="xl">mai/23</text>
<line x1="1425.3" y1="887.9" x2="1425.3" y2="893.4" stroke="#555" stroke-width="1.5"/>
<line x1="1435.0" y1="887.9" x2="1435.0" y2="893.4" stroke="#555" stroke-width="1.5"/>
<line x1="1444.7" y1="887.9" x2="1444.7" y2="893.4" stroke="#555" stroke-width="1.5"/>
<line x1="1454.4" y1="887.9" x2="1454.4" y2="893.4" stroke="#555" stroke-width="1.5"/>
<text transform="translate(1460.2,929.9) rotate(-90)" text-anchor="middle" class="xl">set/23</text>
<line x1="1464.1" y1="887.9" x2="1464.1" y2="893.4" stroke="#555" stroke-width="1.5"/>
<line x1="1473.7" y1="887.9" x2="1473.7" y2="893.4" stroke="#555" stroke-width="1.5"/>
<line x1="1483.4" y1="887.9" x2="1483.4" y2="893.4" stroke="#555" stroke-width="1.5"/>
<line x1="1493.1" y1="887.9" x2="1493.1" y2="893.4" stroke="#555" stroke-width="1.5"/>
<text transform="translate(1498.9,929.9) rotate(-90)" text-anchor="middle" class="xl">jan/24</text>
<line x1="195.2" y1="555.0" x2="238.8" y2="555.0" stroke="#54A02B" stroke-width="3.5"/>
<text x="244.5" y="561.4" class="lg">S</text>
<line x1="195.2" y1="584.0" x2="238.8" y2="584.0" stroke="#36499D" stroke-width="3.5"/>
<text x="244.5" y="590.4" class="lg">SR-FIPE</text>
<line x1="195.2" y1="612.9" x2="238.8" y2="612.9" stroke="#E4341C" stroke-width="3.5"/>
<text x="244.5" y="619.3" class="lg">SR-IPCA</text>
<line x1="195.2" y1="641.9" x2="238.8" y2="641.9" stroke="#FDCC22" stroke-width="3.5"/>
<text x="244.5" y="648.2" class="lg">SR-F6</text>
<text class="an" text-anchor="middle" x="571" y="731.4">A área entre as curvas e a reta horizontal (S), de</text>
<text class="an" text-anchor="middle" x="570.5" y="770.4">valor constante 1, representa a perda salarial</text>
<text class="an" text-anchor="middle" x="571.5" y="809.5">no período</text>
<g clip-path="url(#noglass)"><g transform="translate(1389.0,406.5) rotate(30)" filter="url(#blur)" opacity="0.74">
<circle cx="0" cy="0" r="171" fill="none" stroke="#000" stroke-width="22"/>
</g>
<g transform="translate(1384.5,405.5) rotate(30)" filter="url(#blur)" opacity="0.74">
<ellipse cx="-2.7" cy="173" rx="47" ry="40" fill="#000"/>
<rect x="-21.7" y="200" width="38" height="80" fill="#000"/>
<rect x="-39.7" y="268" width="74" height="238" fill="#000"/>
<rect x="-27.7" y="500" width="50" height="32" rx="20" fill="#000"/>
</g></g>
<circle cx="1386.0" cy="403.5" r="164.0" fill="rgba(44,166,209,0.35)"/>
<g clip-path="url(#glassclip)"><polyline points="1269.0,560.0 1275.3,423.8 1299.6,441.7 1347.1,432.2 1370.3,442.8 1444.2,457.6 1491.7,514.6" fill="none" stroke="#C9CD3F" stroke-width="4" stroke-linejoin="miter"/><polyline points="1267.0,560.0 1275.3,405.8 1298.6,417.9 1322.8,413.2 1347.1,419.6 1443.2,469.2 1490.7,519.8" fill="none" stroke="#CF4B2D" stroke-width="3" stroke-linejoin="miter"/><polyline points="1261.0,560.0 1275.3,282.1 1298.6,293.3 1322.8,291.2 1353.4,281.7 1371.0,272.8 1418.9,302.8 1490.7,369.9" fill="none" stroke="#265AB0" stroke-width="3.1" stroke-linejoin="miter"/></g>
<g>
<g clip-path="url(#glassclip)">
<path d="M1365.7,236 C1348,275 1350,330 1378.4,368.8 C1400,396 1432,418 1446,455 C1456,485 1456,520 1448,575 L1580,575 L1580,236 Z" fill="url(#glareg)"/>
</g>
<circle cx="1386.0" cy="403.5" r="164.0" fill="url(#glassedge)"/>
<circle cx="1386.0" cy="403.5" r="161.7" fill="none" stroke="url(#ringg)" stroke-width="5"/>
</g>
<g transform="translate(1386.0,403.5) rotate(30)">
<!-- bottom cap -->
<ellipse cx="-3.3" cy="503" rx="28.5" ry="27" fill="url(#capg)"/>
<!-- collar -->
<path d="M -48.7 160 L -48.7 173 A 46 39 0 0 0 43.3 173 L 43.3 160 Z" fill="url(#collarg)"/>
<path d="M -48.7 160 L -48.7 173 A 46 39 0 0 0 43.3 173 L 43.3 160 Z" fill="url(#collarsh)"/>
<!-- neck -->
<rect x="-21.2" y="205" width="37" height="62" fill="url(#neckg)"/>
<!-- handle top dome -->
<circle cx="-2.7" cy="265.6" r="24" fill="url(#domeg)"/>
<!-- handle -->
<path d="M -38.9 270 Q -2.7 264 33.5 269 L 33.5 504 Q -2.7 509 -38.9 504 Z" fill="url(#handleg)"/>
<!-- rim -->
<circle cx="0" cy="0" r="171.7" fill="none" stroke="url(#rimg)" stroke-width="15"/>
</g>
</svg>
</body></html>
